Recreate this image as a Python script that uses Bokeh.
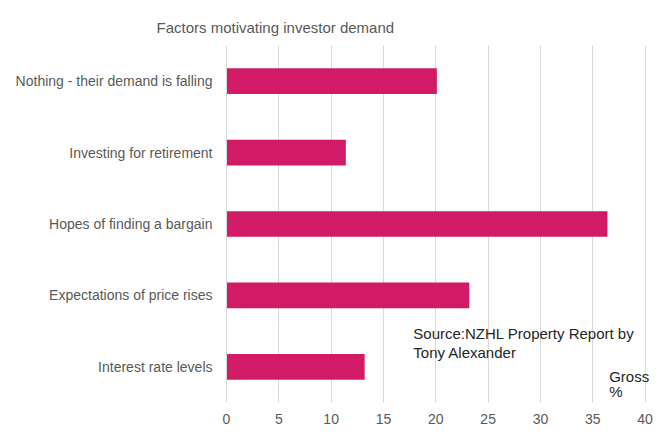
from bokeh.plotting import figure
from bokeh.models import Label, FixedTicker
from bokeh.embed import file_html
from bokeh.resources import INLINE

categories = [
    "Nothing - their demand is falling",
    "Investing for retirement",
    "Hopes of finding a bargain",
    "Expectations of price rises",
    "Interest rate levels",
]
values = [20.1, 11.4, 36.4, 23.2, 13.2]
x_ticks = [0, 5, 10, 15, 20, 25, 30, 35, 40]

FONT = "Liberation Sans"
GREY = "#595959"

factors = list(reversed(categories))

p = figure(
    width=656, height=426,
    y_range=factors, x_range=(0, 40.8),
    output_backend="svg", toolbar_location=None,
    title="Factors motivating investor demand",
    min_border_left=226, min_border_right=3,
    min_border_top=45, min_border_bottom=21,
)
p.title.text_font = FONT
p.title.text_font_size = "15px"
p.title.text_font_style = "normal"
p.title.text_color = GREY
p.title.align = "left"
p.title.offset = -70
p.title.standoff = 20

p.hbar(y=categories, right=values, left=0, height=0.36,
       fill_color="#D11B66", line_color=None)

p.outline_line_color = None
p.ygrid.grid_line_color = None
p.xgrid.grid_line_color = "#d9d9d9"
p.xaxis.ticker = FixedTicker(ticks=x_ticks)
p.xaxis.axis_line_color = None
p.xaxis.major_tick_line_color = None
p.xaxis.minor_tick_line_color = None
p.xaxis.major_label_standoff = 5
p.xaxis.major_label_text_font = FONT
p.xaxis.major_label_text_font_size = "14px"
p.xaxis.major_label_text_color = GREY

p.yaxis.axis_line_color = "#d9d9d9"
p.yaxis.major_tick_line_color = None
p.yaxis.minor_tick_line_color = None
p.yaxis.major_label_standoff = 8
p.yaxis.major_label_text_font = FONT
p.yaxis.major_label_text_font_size = "14px"
p.yaxis.major_label_text_color = GREY

for txt, x, y in [("Source:NZHL  Property Report by", 17.85, 0.97),
                  ("Tony Alexander", 17.85, 0.70),
                  ("Gross", 36.56, 0.37),
                  ("%", 36.56, 0.15)]:
    p.add_layout(Label(x=x, y=y, text=txt, text_font=FONT, text_font_size="15px",
                       text_color="#262626", text_baseline="middle"))

open("out.html", "w").write(file_html(p, INLINE))
